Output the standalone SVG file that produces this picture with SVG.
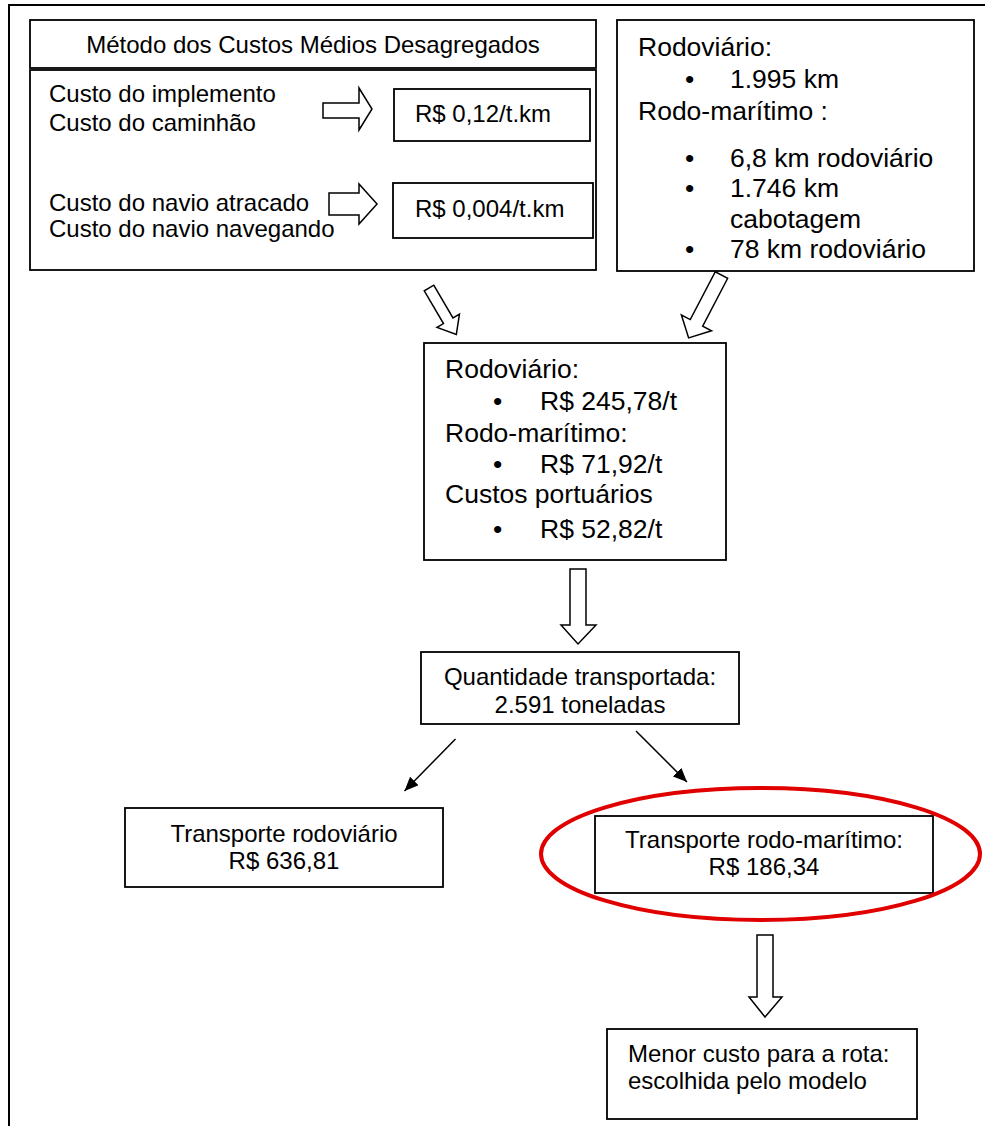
<svg xmlns="http://www.w3.org/2000/svg" width="985" height="1126" viewBox="0 0 985 1126">
<style>
.box{fill:#fff;stroke:#000;stroke-width:1.8}
.blk{fill:#fff;stroke:#000;stroke-width:1.5;stroke-linejoin:miter}
.t{font-family:"Liberation Sans",Arial,sans-serif;font-size:24px;fill:#000}
.tl{font-family:"Liberation Sans",Arial,sans-serif;font-size:26.5px;fill:#000}
.c{text-anchor:middle}
.ln{stroke:#000;stroke-width:1.5;fill:none}
</style>
<defs>
<marker id="ah" viewBox="0 0 14 12" refX="14" refY="6" markerWidth="14" markerHeight="12" markerUnits="userSpaceOnUse" orient="auto">
<path d="M0,0 L14,6 L0,12 Z" fill="#000"/>
</marker>
</defs>
<rect width="985" height="1126" fill="#fff"/>
<rect x="9" y="5" width="1000" height="1200" fill="none" stroke="#000" stroke-width="2"/>

<g id="metodo-title">
<rect class="box" x="30" y="20" width="566" height="48"/>
<text class="t c" x="313" y="53">Método dos Custos Médios Desagregados</text>
</g>
<g id="metodo-body">
<rect class="box" x="30" y="70" width="566" height="200"/>
<text class="t" x="49" y="102">Custo do implemento</text>
<text class="t" x="49" y="131">Custo do caminhão</text>
<text class="t" x="49" y="211">Custo do navio atracado</text>
<text class="t" x="49" y="237">Custo do navio navegando</text>
</g>
<g id="custo-rodo">
<rect class="box" x="394" y="89" width="196" height="52"/>
<text class="t" x="415" y="122">R$ 0,12/t.km</text>
</g>
<g id="custo-navio">
<rect class="box" x="393" y="183" width="200" height="55"/>
<text class="t" x="415" y="217">R$ 0,004/t.km</text>
</g>
<g id="distancias">
<rect class="box" x="617" y="20" width="357" height="251"/>
<text class="tl" x="638" y="56">Rodoviário:</text>
<text class="tl" x="685" y="88">•</text>
<text class="tl" x="730" y="88">1.995 km</text>
<text class="tl" x="638" y="120">Rodo-marítimo :</text>
<text class="tl" x="685" y="167">•</text>
<text class="tl" x="730" y="167">6,8 km rodoviário</text>
<text class="tl" x="685" y="197">•</text>
<text class="tl" x="730" y="197">1.746 km</text>
<text class="tl" x="730" y="228">cabotagem</text>
<text class="tl" x="685" y="258">•</text>
<text class="tl" x="730" y="258">78 km rodoviário</text>
</g>
<g id="custos">
<rect class="box" x="424" y="343" width="302" height="217"/>
<text class="tl" x="445" y="378">Rodoviário:</text>
<text class="tl" x="493" y="410">•</text>
<text class="tl" x="540" y="410">R$ 245,78/t</text>
<text class="tl" x="445" y="442">Rodo-marítimo:</text>
<text class="tl" x="493" y="473">•</text>
<text class="tl" x="540" y="473">R$ 71,92/t</text>
<text class="tl" x="445" y="503">Custos portuários</text>
<text class="tl" x="493" y="538">•</text>
<text class="tl" x="540" y="538">R$ 52,82/t</text>
</g>
<g id="quantidade">
<rect class="box" x="421" y="652" width="318" height="72"/>
<text class="t c" x="580" y="685">Quantidade transportada:</text>
<text class="t c" x="580" y="713">2.591 toneladas</text>
</g>
<g id="transporte-rodoviario">
<rect class="box" x="125" y="808" width="318" height="79"/>
<text class="t c" x="284" y="842">Transporte rodoviário</text>
<text class="t c" x="284" y="869">R$ 636,81</text>
</g>
<g id="transporte-rodo-maritimo">
<rect class="box" x="595" y="816" width="338" height="77"/>
<text class="t c" x="764" y="848">Transporte rodo-marítimo:</text>
<text class="t c" x="764" y="875">R$ 186,34</text>
<ellipse cx="760.5" cy="854" rx="219.5" ry="66" fill="none" stroke="#e00000" stroke-width="4"/>
</g>
<g id="menor-custo">
<rect class="box" x="607" y="1029" width="310" height="90"/>
<text class="t" x="628" y="1062">Menor custo para a rota:</text>
<text class="t" x="628" y="1089">escolhida pelo modelo</text>
</g>

<g id="connectors">
<polygon class="blk" points="323,103 359,103 359,88 372,109 359,130 359,118 323,118"/>
<polygon class="blk" points="329,193 359,193 359,184 377,204 359,224 359,215 329,215"/>
<polygon class="blk" transform="translate(429,288) rotate(59.6)" points="0,-5.5 38,-5.5 38,-13 54,0 38,13 38,5.5 0,5.5"/>
<polygon class="blk" transform="translate(721.5,275) rotate(117.6)" points="0,-7 54,-7 54,-17 71,0 54,17 54,7 0,7"/>
<polygon class="blk" points="570,569 586,569 586,625 596,625 578,644 561,625 570,625"/>
<line class="ln" x1="455.5" y1="739" x2="404.5" y2="791" marker-end="url(#ah)"/>
<line class="ln" x1="636" y1="731" x2="687" y2="782" marker-end="url(#ah)"/>
<polygon class="blk" points="757,935 773,935 773,997 782,997 765,1017 749,997 757,997"/>
</g>
</svg>
